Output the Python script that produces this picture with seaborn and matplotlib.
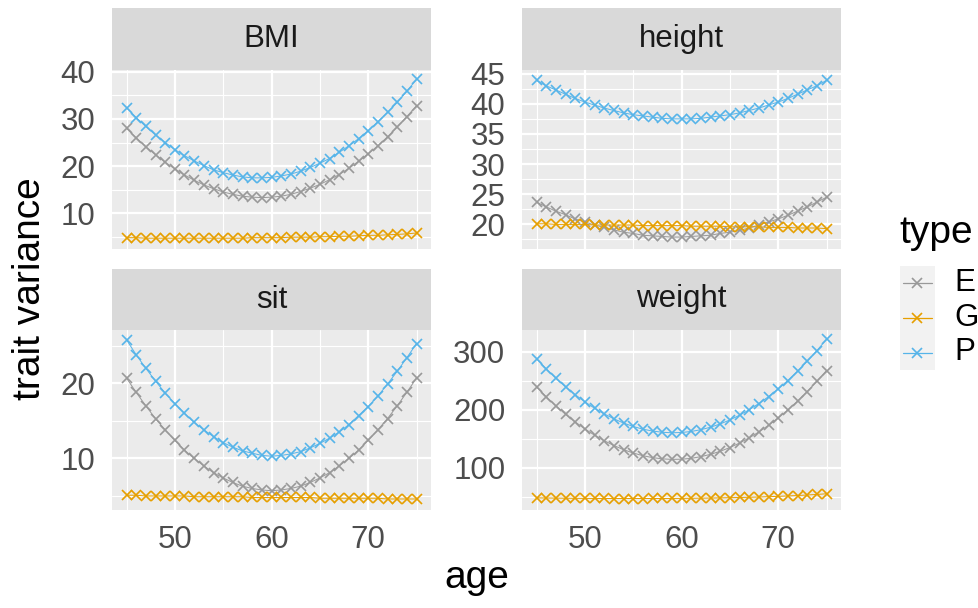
import matplotlib
matplotlib.use("Agg")
import matplotlib.pyplot as plt
from matplotlib.lines import Line2D
from matplotlib.patches import Rectangle
import numpy as np
import pandas as pd
import seaborn as sns

# ---- data -------------------------------------------------------------
ages = [45, 46, 47, 48, 49, 50, 51, 52, 53, 54, 55, 56, 57, 58, 59, 60,
        61, 62, 63, 64, 65, 66, 67, 68, 69, 70, 71, 72, 73, 74, 75]

traits = ["BMI", "height", "sit", "weight"]
types = ["E", "G", "P"]

bmi_E = [28.0, 26.0, 24.1, 22.4, 20.8, 19.4, 18.1, 17.0, 16.0, 15.2, 14.5, 14.0, 13.6, 13.4, 13.3, 13.4,
         13.6, 14.0, 14.6, 15.3, 16.1, 17.1, 18.2, 19.5, 21.0, 22.6, 24.3, 26.2, 28.3, 30.5, 32.8]
bmi_G = [4.8, 4.8, 4.7, 4.7, 4.7, 4.7, 4.7, 4.7, 4.7, 4.7, 4.7, 4.7, 4.7, 4.8, 4.8, 4.8,
         4.8, 4.9, 4.9, 4.9, 5.0, 5.0, 5.1, 5.1, 5.2, 5.3, 5.3, 5.4, 5.5, 5.6, 5.8]
bmi_P = [32.4, 30.3, 28.4, 26.6, 25.0, 23.5, 22.2, 21.1, 20.1, 19.2, 18.6, 18.1, 17.7, 17.5, 17.5, 17.6,
         17.9, 18.3, 18.9, 19.7, 20.6, 21.6, 22.9, 24.3, 25.8, 27.5, 29.4, 31.4, 33.5, 35.9, 38.4]

height_E = [23.7, 22.9, 22.2, 21.6, 20.9, 20.4, 19.9, 19.5, 19.1, 18.7, 18.5, 18.2, 18.1, 18.0, 17.9, 17.9,
            18.0, 18.1, 18.2, 18.5, 18.7, 19.0, 19.4, 19.9, 20.4, 20.9, 21.5, 22.2, 22.9, 23.7, 24.5]
height_G = [20.1, 20.1, 20.0, 20.0, 20.0, 20.0, 19.9, 19.9, 19.9, 19.9, 19.9, 19.8, 19.8, 19.8, 19.8, 19.8,
            19.7, 19.7, 19.7, 19.7, 19.6, 19.6, 19.6, 19.6, 19.5, 19.5, 19.5, 19.4, 19.4, 19.4, 19.3]
height_P = [43.9, 43.0, 42.3, 41.6, 40.9, 40.3, 39.8, 39.3, 38.9, 38.5, 38.2, 38.0, 37.8, 37.6, 37.5, 37.5,
            37.5, 37.6, 37.8, 38.0, 38.2, 38.5, 38.9, 39.3, 39.8, 40.3, 40.9, 41.6, 42.3, 43.0, 43.9]

sit_E = [20.7, 18.8, 17.0, 15.3, 13.8, 12.4, 11.1, 10.0, 9.0, 8.1, 7.4, 6.8, 6.3, 6.0, 5.8, 5.7,
         5.8, 6.0, 6.3, 6.8, 7.4, 8.1, 9.0, 10.0, 11.1, 12.4, 13.8, 15.3, 17.0, 18.8, 20.7]
sit_G = [5.1, 5.1, 5.0, 5.0, 5.0, 5.0, 5.0, 4.9, 4.9, 4.9, 4.9, 4.9, 4.9, 4.8, 4.8, 4.8,
         4.8, 4.8, 4.8, 4.8, 4.7, 4.7, 4.7, 4.7, 4.7, 4.7, 4.7, 4.6, 4.6, 4.6, 4.6]
sit_P = [25.8, 23.8, 22.0, 20.3, 18.7, 17.3, 16.0, 14.8, 13.8, 12.9, 12.1, 11.5, 11.0, 10.7, 10.4, 10.3,
         10.4, 10.6, 10.9, 11.4, 12.0, 12.7, 13.5, 14.5, 15.7, 16.9, 18.3, 19.9, 21.6, 23.4, 25.3]

weight_E = [239.3, 222.3, 206.6, 192.1, 178.9, 166.9, 156.1, 146.6, 138.2, 131.1, 125.3, 120.7, 117.4, 115.2, 114.3, 114.6,
            116.1, 119.0, 123.0, 128.3, 134.7, 142.5, 151.4, 161.6, 173.1, 185.7, 199.7, 214.7, 231.2, 248.7, 267.5]
weight_G = [48.0, 47.8, 47.6, 47.4, 47.2, 47.1, 47.0, 46.9, 46.8, 46.8, 46.8, 46.8, 46.9, 46.9, 47.0, 47.1,
            47.3, 47.5, 47.7, 48.0, 48.3, 48.6, 49.0, 49.4, 50.0, 50.6, 51.3, 52.0, 52.9, 53.9, 55.0]
weight_P = [288.0, 270.5, 254.4, 239.5, 225.9, 213.6, 202.5, 192.8, 184.3, 177.0, 171.1, 166.4, 163.2, 161.1, 160.2, 160.7,
            162.4, 165.5, 169.8, 175.4, 182.3, 190.4, 199.9, 210.6, 222.5, 235.8, 250.3, 266.3, 283.4, 301.7, 321.4]

series = {
    ("BMI", "E"): bmi_E, ("BMI", "G"): bmi_G, ("BMI", "P"): bmi_P,
    ("height", "E"): height_E, ("height", "G"): height_G, ("height", "P"): height_P,
    ("sit", "E"): sit_E, ("sit", "G"): sit_G, ("sit", "P"): sit_P,
    ("weight", "E"): weight_E, ("weight", "G"): weight_G, ("weight", "P"): weight_P,
}

rows = []
for (trait, typ), vals in series.items():
    for a, v in zip(ages, vals):
        rows.append({"trait": trait, "type": typ, "age": a, "variance": v})
df = pd.DataFrame(rows)

palette = {"E": "#999999", "G": "#E69F00", "P": "#56B4E9"}

# per-panel y scales (free y)
y_major = {
    "BMI": [10, 20, 30, 40],
    "height": [20, 25, 30, 35, 40, 45],
    "sit": [10, 20],
    "weight": [100, 200, 300],
}
y_minor = {
    "BMI": [5, 15, 25, 35],
    "height": [17.5, 22.5, 27.5, 32.5, 37.5, 42.5],
    "sit": [5, 15, 25],
    "weight": [50, 150, 250],
}
y_lims = {
    "BMI": (2.5, 40.5),
    "height": (16.0, 45.7),
    "sit": (3.2, 27.1),
    "weight": (27.9, 337.4),
}
x_major = [50, 60, 70]
x_minor = [45, 55, 65, 75]

# ---- figure ------------------------------------------------------------
sns.set_theme(style="white")
plt.rcParams["font.family"] = ["Liberation Sans", "DejaVu Sans"]

W, H = 979, 608
fig = plt.figure(figsize=(W / 100, H / 100), dpi=100)


def fx(px):
    return px / W


def fy(py):
    return 1 - py / H


panel_x = {"BMI": 112, "height": 522, "sit": 112, "weight": 522}
panel_w = 319
panel_top = {"BMI": 69.5, "height": 69.5, "sit": 330, "weight": 330}
panel_bot = {"BMI": 248.5, "height": 248.5, "sit": 509.5, "weight": 509.5}
strip_top = {"BMI": 8, "height": 8, "sit": 269, "weight": 269}

tick_color = "#333333"
label_color = "#4D4D4D"
tick_fs = 22.5
title_fs = 28

for trait in traits:
    x0 = panel_x[trait]
    ax = fig.add_axes([fx(x0), fy(panel_bot[trait]), panel_w / W,
                       (panel_bot[trait] - panel_top[trait]) / H])
    ax.set_facecolor("#EBEBEB")
    for s in ax.spines.values():
        s.set_visible(False)

    sub = df[df["trait"] == trait]
    sns.lineplot(data=sub, x="age", y="variance", hue="type", hue_order=types,
                 palette=palette, marker="x", markersize=6.5, linewidth=0.7,
                 legend=False, ax=ax, zorder=3)
    for ln in ax.get_lines():
        ln.set_markeredgecolor(ln.get_color())
        ln.set_markeredgewidth(1.2)

    ax.set_xlim(43.5, 76.5)
    ax.set_ylim(*y_lims[trait])

    # grid: minor then major, white
    for v in x_minor:
        ax.axvline(v, color="white", lw=0.8, zorder=1)
    for v in y_minor[trait]:
        ax.axhline(v, color="white", lw=0.8, zorder=1)
    for v in x_major:
        ax.axvline(v, color="white", lw=1.6, zorder=1)
    for v in y_major[trait]:
        ax.axhline(v, color="white", lw=1.6, zorder=1)

    ax.set_yticks(y_major[trait])
    ax.set_yticklabels([str(t) for t in y_major[trait]])
    ax.set_xticks(x_major)
    bottom_row = trait in ("sit", "weight")
    if bottom_row:
        ax.set_xticklabels([str(t) for t in x_major])
        ax.tick_params(axis="x", length=6, width=1.6, color=tick_color,
                       labelsize=tick_fs, labelcolor=label_color, pad=5)
    else:
        ax.tick_params(axis="x", length=0, labelbottom=False)
    ax.tick_params(axis="y", length=6, width=1.6, color=tick_color,
                   labelsize=tick_fs, labelcolor=label_color, pad=6)
    ax.set_xlabel("")
    ax.set_ylabel("")

    # facet strip
    sax = fig.add_axes([fx(x0), fy(panel_top[trait]), panel_w / W,
                        (panel_top[trait] - strip_top[trait]) / H])
    sax.set_facecolor("#D9D9D9")
    sax.set_xticks([])
    sax.set_yticks([])
    for s in sax.spines.values():
        s.set_visible(False)
    sax.text(0.5, 0.5, trait, ha="center", va="center", fontsize=tick_fs,
             color="#1A1A1A", transform=sax.transAxes)

# axis titles
fig.text(fx(477), fy(578), "age", ha="center", va="center", fontsize=title_fs,
         color="black")
fig.text(fx(30), fy(289), "trait variance", ha="center", va="center",
         rotation=90, fontsize=title_fs, color="black")

# legend
fig.text(fx(899), fy(243), "type", ha="left", va="baseline", fontsize=title_fs,
         color="black")
key_top = 266
key_h = 34.6
fig.add_artist(Rectangle((fx(900), fy(key_top + 3 * key_h)), 35 / W, 3 * key_h / H,
                         transform=fig.transFigure, facecolor="#F2F2F2",
                         edgecolor="none"))
for i, typ in enumerate(types):
    yc = key_top + key_h * (i + 0.5)
    fig.add_artist(Line2D([fx(903.5), fx(917.5), fx(931.5)], [fy(yc)] * 3,
                          transform=fig.transFigure, color=palette[typ],
                          lw=0.9, marker="x", markevery=[1], markersize=6.5,
                          markeredgewidth=1.2, markeredgecolor=palette[typ]))
    fig.text(fx(954), fy(yc), typ, ha="left", va="center", fontsize=tick_fs,
             color="black")

fig.savefig("out.png", dpi=100)
